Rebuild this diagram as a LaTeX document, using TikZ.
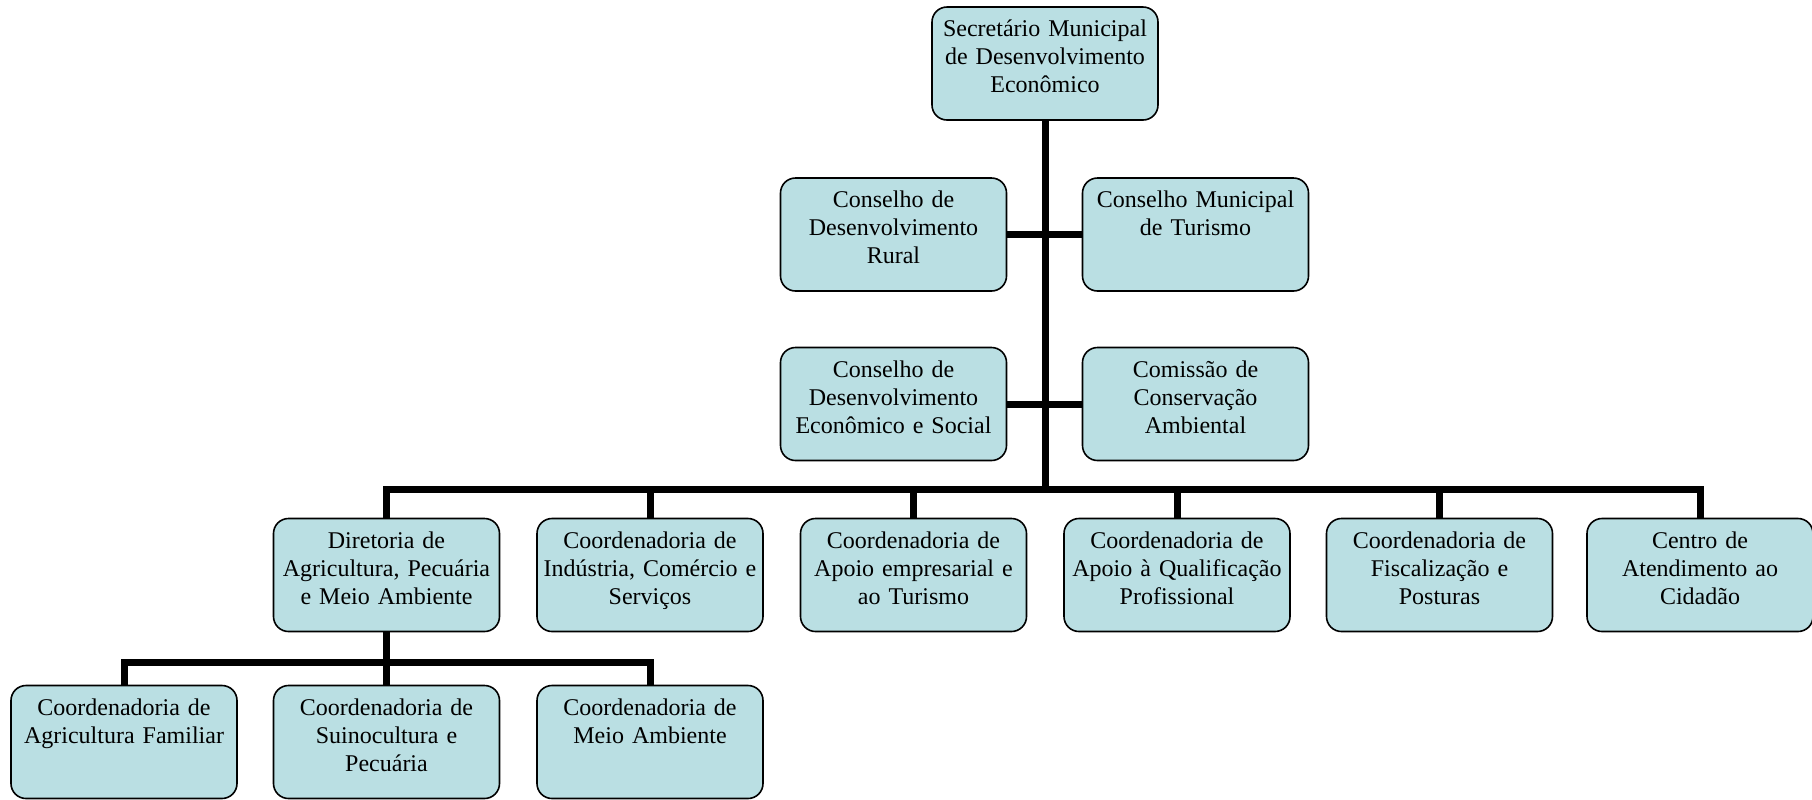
\documentclass[tikz,border=0pt]{standalone}
\usepackage{fontspec}
\setmainfont{Liberation Serif}
\usepackage{tikz}
\usetikzlibrary{positioning}
\definecolor{boxblue}{RGB}{186,223,227}

\begin{document}
\begin{tikzpicture}[x = .5pt, y = -.5pt,
    unit/.style = {draw, thick, fill = boxblue, rounded corners = 7.5pt,
        minimum width = 113pt, minimum height = 56.5pt, inner sep = 0pt,
        text width = 110pt, align = center, font = \fontsize{12}{14}\selectfont,
        text height = 9pt, text depth = 36pt},
    link/.style = {line width = 3.5pt}]
    \useasboundingbox (0,0) rectangle (1812,799);
    % top and councils
    \node[unit] (sec) at (1045,63.5) {Secretário Municipal\\de Desenvolvimento\\Econômico};
    \node[unit] (cdr) at (893.5,234.5) {Conselho de\\Desenvolvimento\\Rural};
    \node[unit] (cmt) at (1195.5,234.5) {Conselho Municipal\\de Turismo};
    \node[unit] (cdes) at (893.5,404) {Conselho de\\Desenvolvimento\\Econômico e Social};
    \node[unit] (cca) at (1195.5,404) {Comissão de\\Conservação\\Ambiental};
    % second level
    \node[unit] (dir) at (386.5,575) {Diretoria de\\Agricultura, Pecuária\\e Meio Ambiente};
    \node[unit] (cics) at (650,575) {Coordenadoria de\\Indústria, Comércio e\\Serviços};
    \node[unit] (caet) at (913.5,575) {Coordenadoria de\\Apoio empresarial e\\ao Turismo};
    \node[unit] (caqp) at (1177,575) {Coordenadoria de\\Apoio à Qualificação\\Profissional};
    \node[unit] (cfp) at (1439.5,575) {Coordenadoria de\\Fiscalização e\\Posturas};
    \node[unit] (cac) at (1700,575) {Centro de\\Atendimento ao\\Cidadão};
    % under the diretoria
    \node[unit] (caf) at (124,742) {Coordenadoria de\\Agricultura Familiar};
    \node[unit] (csp) at (386.5,742) {Coordenadoria de\\Suinocultura e\\Pecuária};
    \node[unit] (cma) at (650,742) {Coordenadoria de\\Meio Ambiente};
    % lines
    \coordinate (bus) at (1045,489);
    \coordinate (sub) at (386.5,662);
    \draw[link] (sec.south) -- (bus);
    \draw[link] (cdr.east) -- (cmt.west);
    \draw[link] (cdes.east) -- (cca.west);
    \draw[link] (dir.north) |- (bus) -| (cac.north);
    \foreach \n in {cics,caet,caqp,cfp}
        \draw[link] (bus -| \n.north) -- (\n.north);
    \draw[link] (dir.south) -- (csp.north);
    \draw[link] (caf.north) |- (sub) -| (cma.north);
\end{tikzpicture}
\end{document}
